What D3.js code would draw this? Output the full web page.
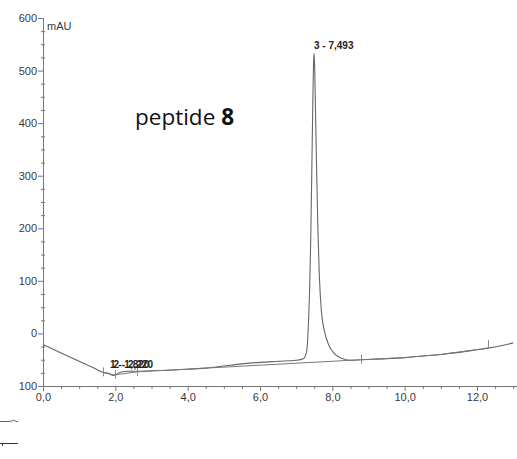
<!DOCTYPE html>
<html>
<head>
<meta charset="utf-8">
<script src="https://cdn.jsdelivr.net/npm/d3@7"></script>
<style>
  body { margin: 0; background: #fff; }
  text { font-family: "Liberation Sans", Arial, sans-serif; }
</style>
</head>
<body>
<div class="chart"></div>
<script>
var svgWidth = 517;
var svgHeight = 459;

var margin = { top: 18, right: 2, bottom: 73, left: 43 };
var width = svgWidth - margin.left - margin.right;
var height = svgHeight - margin.top - margin.bottom;

// signal trace (min, mAU)
var times = [0, 0.5, 1.0, 1.5, 1.65, 1.8, 1.95, 2.0, 2.1, 2.2, 2.35, 2.6, 3.0, 3.5, 4.0, 4.5,
  5.0, 5.5, 6.0, 6.5, 7.0, 7.2, 7.27, 7.31, 7.34, 7.37, 7.40, 7.43, 7.46, 7.48, 7.493,
  7.51, 7.53, 7.56, 7.60, 7.64, 7.70, 7.78, 7.90, 8.05, 8.25, 8.5, 8.8, 9.5, 10.0,
  10.5, 11.0, 11.5, 12.0, 12.3, 12.7, 13.0];
var signal = [-21, -37, -53, -69, -74, -76, -80, -79, -75, -73, -72, -72, -71, -70, -68, -66,
  -62, -58, -55, -53, -51, -48, -40, -20, 20, 80, 170, 300, 440, 515, 533,
  510, 440, 330, 200, 110, 40, 5, -22, -38, -47, -51, -50, -48, -46,
  -43, -40, -36, -31, -28, -23, -18];

// integration baseline points and delimiters
var baseTimes = [1.65, 1.98, 2.6, 8.8, 10.0, 11.0, 12.3];
var baseValues = [-74, -79, -73, -50, -46, -40, -28];
var delimTimes = [1.65, 1.98, 2.6, 8.8, 12.3];
var delimValues = [-74, -79, -73, -50, -28];

var peakLabels = ["1 - 1,820", "2 - 2,220", "3 - 7,493"];
var peakLabelTimes = [1.85, 1.95, 7.493];
var peakLabelValues = [-65, -65, 541];

var xTicks = [0, 2, 4, 6, 8, 10, 12];
var xTickLabels = ["0,0", "2,0", "4,0", "6,0", "8,0", "10,0", "12,0"];
var yTicks = [-100, 0, 100, 200, 300, 400, 500, 600];
var yTickLabels = ["100", "0", "100", "200", "300", "400", "500", "600"];

var svg = d3.select(".chart")
    .append("svg")
    .attr("width", svgWidth)
    .attr("height", svgHeight);

var chartGroup = svg.append("g")
    .attr("transform", `translate(${margin.left}, ${margin.top})`);

var x = d3.scaleLinear().domain([0, 13.05]).range([0, width]);
var y = d3.scaleLinear().domain([-100, 600]).range([height, 0]);

var axisColor = "#777";
var textColor = "#3a3a3a";

// minor ticks
var xMinor = d3.range(0, 13.01, 0.5).filter(d => xTicks.indexOf(d) < 0);
var yMinor = d3.range(-100, 600, 25).filter(d => yTicks.indexOf(d) < 0);

var bottomAxis = d3.axisBottom(x)
    .tickValues(xTicks)
    .tickSize(5)
    .tickFormat((d, i) => xTickLabels[i]);
var leftAxis = d3.axisLeft(y)
    .tickValues(yTicks)
    .tickSize(5)
    .tickFormat((d, i) => yTickLabels[i]);

var xg = chartGroup.append("g")
    .attr("transform", `translate(0, ${height})`)
    .call(bottomAxis);
xg.select(".domain").attr("d", `M0,0.5H${width + 2}`);

var yg = chartGroup.append("g").call(leftAxis);
yg.select(".domain").attr("d", "M0.5,0V" + height);

[xg, yg].forEach(function (g) {
    g.select(".domain").attr("stroke", axisColor);
    g.selectAll(".tick line").attr("stroke", axisColor);
    g.selectAll(".tick text")
        .attr("fill", textColor)
        .style("font-size", "11px")
        .style("font-family", "'Liberation Sans', Arial, sans-serif");
});
yg.selectAll(".tick text").attr("x", -6);
xg.selectAll(".tick text").attr("y", 7);

chartGroup.append("g").selectAll("line")
    .data(xMinor)
    .enter().append("line")
    .attr("x1", d => x(d) + 0.5).attr("x2", d => x(d) + 0.5)
    .attr("y1", height).attr("y2", height + 3)
    .attr("stroke", axisColor);

chartGroup.append("g").selectAll("line")
    .data(yMinor)
    .enter().append("line")
    .attr("y1", d => y(d) + 0.5).attr("y2", d => y(d) + 0.5)
    .attr("x1", -2).attr("x2", 2)
    .attr("stroke", axisColor);

chartGroup.append("text")
    .attr("x", 4)
    .attr("y", 12)
    .attr("fill", textColor)
    .style("font-size", "11px")
    .text("mAU");

// trace
var line = d3.line()
    .x(d => x(d[0]))
    .y(d => y(d[1]))
    .curve(d3.curveMonotoneX);

chartGroup.append("path")
    .datum(times.map((t, i) => [t, signal[i]]))
    .attr("d", line)
    .attr("fill", "none")
    .attr("stroke", "#666")
    .attr("stroke-width", 1.1);

var baseLine = d3.line()
    .x(d => x(d[0]))
    .y(d => y(d[1]));

chartGroup.append("path")
    .datum(baseTimes.map((t, i) => [t, baseValues[i]]))
    .attr("d", baseLine)
    .attr("fill", "none")
    .attr("stroke", "#777")
    .attr("stroke-width", 1);

chartGroup.append("g").selectAll("line")
    .data(delimTimes)
    .enter().append("line")
    .attr("x1", d => Math.round(x(d)) + 0.5)
    .attr("x2", d => Math.round(x(d)) + 0.5)
    .attr("y1", (d, i) => y(delimValues[i]) - (i == 4 ? 8 : 5))
    .attr("y2", (d, i) => y(delimValues[i]) + (i == 4 ? 0 : 4))
    .attr("stroke", "#888");

chartGroup.append("g").selectAll("text")
    .data(peakLabels)
    .enter().append("text")
    .attr("x", (d, i) => x(peakLabelTimes[i]))
    .attr("y", (d, i) => y(peakLabelValues[i]))
    .attr("fill", "#222")
    .style("font-size", "10px")
    .style("font-weight", "bold")
    .text(d => d);

// title
var title = chartGroup.append("text")
    .attr("x", 92)
    .attr("y", 107)
    .attr("fill", "#111")
    .style("font-family", "'Open Sans', sans-serif")
    .style("font-size", "22.5px");
title.append("tspan").text("peptide ");
title.append("tspan").style("font-weight", "bold").text("8");

// legend stubs, bottom left
var legendWave = [[0, 0], [8, 0], [12, -0.5], [14, -1.5], [16, 0], [18, 0]];
svg.append("path")
    .datum(legendWave)
    .attr("transform", "translate(0, 421.5)")
    .attr("d", d3.line())
    .attr("fill", "none")
    .attr("stroke", "#666");
svg.append("path")
    .attr("d", "M0,443.5H18M2.5,443V446")
    .attr("fill", "none")
    .attr("stroke", "#333");
</script>
</body>
</html>
